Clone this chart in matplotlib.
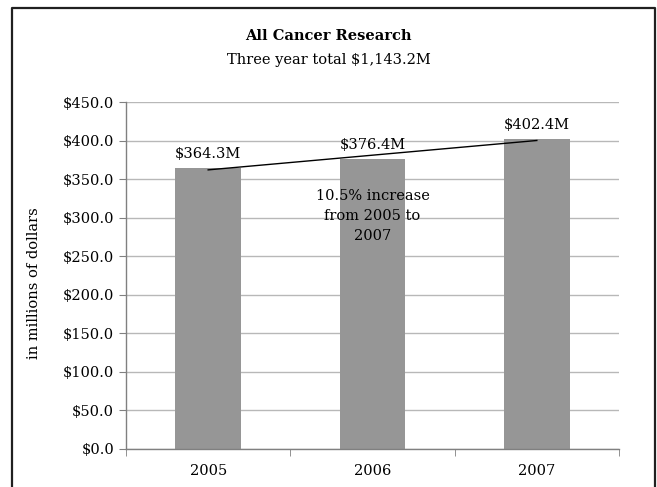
import matplotlib
matplotlib.use("Agg")
import matplotlib.pyplot as plt
import numpy as np
from matplotlib.lines import Line2D

# data
years = ["2005", "2006", "2007"]
funding = [364.3, 376.4, 402.4]
bar_labels = ["$364.3M", "$376.4M", "$402.4M"]
title = "All Cancer Research"
subtitle = "Three year total $1,143.2M"
note = "10.5% increase\nfrom 2005 to\n2007"
note_value = 302

plt.rcParams['font.family'] = ['DejaVu Serif']
plt.rcParams['font.size'] = 10.5


def main():
    fig = plt.figure(figsize=(6.57, 4.87), dpi=100)
    ax = fig.add_axes([126 / 657, 1 - 449 / 487, 493 / 657, 347 / 487])

    x = np.arange(len(years))
    ax.bar(x, funding, width=0.4, color="#969696", zorder=2)

    # linear trendline through the three bars
    slope, icept = np.polyfit(x, funding, 1)
    ends = np.array([x[0], x[-1]])
    ax.plot(ends, slope * ends + icept, color="black", lw=1.0, zorder=3)

    for xi, v, lab in zip(x, funding, bar_labels):
        ax.annotate(lab, (xi, v), xytext=(0, 5), textcoords="offset points",
                    ha="center", va="bottom", zorder=4)

    ax.text(1, note_value, note, ha="center", va="center", zorder=4,
            linespacing=1.55)

    ax.set_xlim(-0.5, 2.5)
    ax.set_ylim(0, 450)
    ax.set_yticks(np.arange(0, 451, 50))
    ax.set_yticklabels(["${:.1f}".format(t) for t in np.arange(0, 451, 50)])
    ax.set_xticks(x)
    ax.set_xticklabels(years)
    ax.set_xticks([-0.5, 0.5, 1.5, 2.5], minor=True)
    ax.tick_params(axis="x", which="major", length=0, pad=11)
    ax.tick_params(axis="x", which="minor", length=5, color="#808080")
    ax.tick_params(axis="y", length=5, color="#808080")
    ax.grid(axis="y", color="#b8b8b8", lw=1.0, zorder=0)
    ax.set_axisbelow(True)
    for s in ["top", "right"]:
        ax.spines[s].set_visible(False)
    for s in ["left", "bottom"]:
        ax.spines[s].set_color("#808080")
        ax.spines[s].set_linewidth(1.0)

    fig.text(34 / 657, 1 - 283 / 487, "in millions of dollars", rotation=90,
             ha="center", va="center")
    fig.text(0.5, 1 - 36 / 487, title, ha="center", va="center",
             fontweight="bold")
    fig.text(0.5, 1 - 60 / 487, subtitle, ha="center", va="center")

    # outer chart border (no bottom edge, it is cut off)
    bx = [11.5 / 657, 11.5 / 657, 655 / 657, 655 / 657]
    by = [0.0, 1 - 7.5 / 487, 1 - 7.5 / 487, 0.0]
    fig.add_artist(Line2D(bx, by, transform=fig.transFigure,
                          color="#202020", lw=1.6))

    fig.savefig("out.png", dpi=100)


if __name__ == '__main__':
    main()
